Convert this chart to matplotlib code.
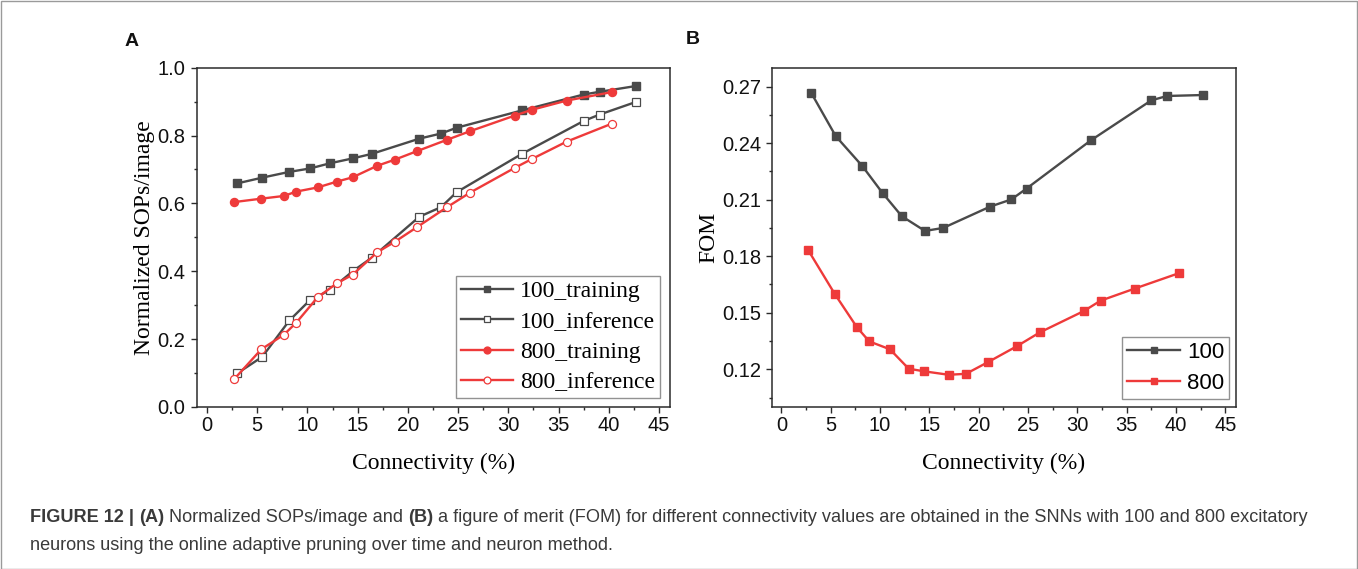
import matplotlib
matplotlib.use("Agg")
import matplotlib.pyplot as plt
from matplotlib.ticker import MultipleLocator, FormatStrFormatter
from matplotlib import font_manager
from matplotlib.patches import Rectangle

# ---- data ----
conn_100 = [3.0, 5.5, 8.2, 10.25, 12.2, 14.55, 16.4, 21.15, 23.3, 24.85, 31.35, 37.5, 39.1, 42.7]
conn_800 = [2.7, 5.4, 7.65, 8.9, 11.0, 12.9, 14.5, 16.95, 18.7, 20.9, 23.85, 26.2, 30.65, 32.35, 35.8, 40.3]

sops_100_training = [0.659, 0.676, 0.693, 0.703, 0.718, 0.733, 0.746, 0.791, 0.806, 0.823, 0.874, 0.921, 0.929, 0.946]
sops_100_inference = [0.099, 0.148, 0.255, 0.315, 0.344, 0.401, 0.440, 0.561, 0.589, 0.633, 0.746, 0.843, 0.862, 0.899]
sops_800_training = [0.604, 0.614, 0.622, 0.635, 0.647, 0.664, 0.677, 0.711, 0.729, 0.754, 0.787, 0.813, 0.859, 0.876, 0.903, 0.928]
sops_800_inference = [0.082, 0.170, 0.213, 0.249, 0.323, 0.364, 0.390, 0.456, 0.487, 0.530, 0.588, 0.632, 0.705, 0.731, 0.782, 0.835]

fom_100 = [0.2668, 0.2437, 0.2278, 0.2135, 0.2012, 0.1934, 0.1950, 0.2063, 0.2101, 0.2159, 0.2414, 0.2627, 0.2650, 0.2655]
fom_800 = [0.1833, 0.1600, 0.1423, 0.1348, 0.1306, 0.1203, 0.1189, 0.1171, 0.1176, 0.1237, 0.1322, 0.1396, 0.1509, 0.1564, 0.1628, 0.1710]

legend_left = ["100_training", "100_inference", "800_training", "800_inference"]
legend_right = ["100", "800"]

# ---- style ----
GRAY = "#4a4a4a"
RED = "#ee3a3a"
SPINE = "#2b2b2b"
SERIF = "Liberation Serif"
SANS = "Liberation Sans"

W, H = 1358, 569
fig = plt.figure(figsize=(W / 100, H / 100), dpi=100)
fig.patch.set_facecolor("white")


def px_axes(l, t, r, b):
    return fig.add_axes([l / W, 1 - b / H, (r - l) / W, (b - t) / H])


def style_axes(ax, ymajor, yminor, yfmt):
    for s in ax.spines.values():
        s.set_color(SPINE)
        s.set_linewidth(1.1)
    ax.xaxis.set_major_locator(MultipleLocator(5))
    ax.xaxis.set_minor_locator(MultipleLocator(2.5))
    ax.yaxis.set_major_locator(MultipleLocator(ymajor))
    ax.yaxis.set_minor_locator(MultipleLocator(yminor))
    ax.yaxis.set_major_formatter(FormatStrFormatter(yfmt))
    ax.tick_params(which="both", direction="out", top=False, right=False,
                   color=SPINE, width=1.0)
    ax.tick_params(which="major", length=4.5, labelsize=14.5)
    ax.tick_params(which="minor", length=2.5)
    ax.tick_params(axis="x", pad=2)
    ax.tick_params(axis="y", pad=3.5)
    for lab in ax.get_xticklabels() + ax.get_yticklabels():
        lab.set_fontfamily(SANS)
        lab.set_color("#111111")


# ---- panel A ----
axA = px_axes(196.7, 67.7, 670, 407)
lw = 1.7
axA.plot(conn_100, sops_100_training, color=GRAY, lw=lw, marker="s", ms=5.2,
         mfc=GRAY, mec=GRAY, label=legend_left[0])
axA.plot(conn_100, sops_100_inference, color=GRAY, lw=lw, marker="s", ms=5.2,
         mfc="white", mec=GRAY, mew=0.9, label=legend_left[1])
axA.plot(conn_800, sops_800_training, color=RED, lw=lw, marker="o", ms=5.8,
         mfc=RED, mec=RED, label=legend_left[2])
axA.plot(conn_800, sops_800_inference, color=RED, lw=lw, marker="o", ms=5.8,
         mfc="white", mec=RED, mew=0.9, label=legend_left[3])
axA.set_xlim(-1.03, 46.1)
axA.set_ylim(0.0, 1.0)
style_axes(axA, 0.2, 0.1, "%.1f")
axA.set_xlabel("Connectivity (%)", family=SERIF, fontsize=17, labelpad=13)
axA.set_ylabel("Normalized SOPs/image", family=SERIF, fontsize=17, labelpad=2)
legA = axA.legend(loc="lower right", bbox_to_anchor=(0.979, 0.0265),
                  borderaxespad=0, prop={"family": SERIF, "size": 17},
                  handlelength=2.2, handletextpad=0.3, labelspacing=0.37,
                  borderpad=0.2, fancybox=False, frameon=True, markerscale=0.85)
legA.get_frame().set_edgecolor("#777777")
legA.get_frame().set_linewidth(1.0)

# ---- panel B ----
axB = px_axes(772, 67.7, 1236, 407)
axB.plot(conn_100, fom_100, color=GRAY, lw=lw, marker="s", ms=5.2,
         mfc=GRAY, mec=GRAY, label=legend_right[0])
axB.plot(conn_800, fom_800, color=RED, lw=lw, marker="s", ms=5.2,
         mfc=RED, mec=RED, label=legend_right[1])
axB.set_xlim(-0.96, 46.08)
axB.set_ylim(0.10, 0.28)
style_axes(axB, 0.03, 0.015, "%.2f")
axB.set_xlabel("Connectivity (%)", family=SERIF, fontsize=17, labelpad=13)
axB.set_ylabel("FOM", family=SERIF, fontsize=17, labelpad=2)
legB = axB.legend(loc="lower right", bbox_to_anchor=(0.985, 0.0236),
                  borderaxespad=0, prop={"family": SANS, "size": 16},
                  handlelength=2.4, handletextpad=0.3, labelspacing=0.45,
                  borderpad=0.22, fancybox=False, frameon=True, markerscale=0.85)
legB.get_frame().set_edgecolor("#777777")
legB.get_frame().set_linewidth(1.0)

# ---- panel letters ----
fig.text(132 / W, 1 - 41 / H, "A", family=SANS, weight="bold", fontsize=14,
         ha="center", va="center", color="#111111")
fig.text(693 / W, 1 - 40 / H, "B", family=SANS, weight="bold", fontsize=14,
         ha="center", va="center", color="#111111")

# ---- caption ----
def pick_caption_font():
    for fam in ["Liberation Sans Narrow", "Liberation Sans"]:
        try:
            font_manager.findfont(font_manager.FontProperties(family=fam),
                                  fallback_to_default=False)
            return fam
        except Exception:
            continue
    return "DejaVu Sans"


CAP_FONT = pick_caption_font()
CAP_COLOR = "#3a3a3a"
line1 = [("FIGURE 12 | ", True), ("(A)", True), (" Normalized SOPs/image and ", False),
         ("(B)", True), (" a figure of merit (FOM) for different connectivity values are "
                         "obtained in the SNNs with 100 and 800 excitatory", False)]
line2 = [("neurons using the online adaptive pruning over time and neuron method.", False)]

renderer = fig.canvas.get_renderer()


def draw_line(segments, x0, yc, size):
    x = x0
    for txt, bold in segments:
        t = fig.text(x / W, 1 - yc / H, txt, family=CAP_FONT, fontsize=size,
                     weight="bold" if bold else "normal", color=CAP_COLOR,
                     ha="left", va="center")
        bb = t.get_window_extent(renderer=renderer)
        x += bb.width
    return x - x0


# fit the first caption line to the text column width
probe = 12.0
tmp = []
xx = 0
for txt, bold in line1:
    t = fig.text(0, 0, txt, family=CAP_FONT, fontsize=probe,
                 weight="bold" if bold else "normal")
    xx += t.get_window_extent(renderer=renderer).width
    tmp.append(t)
for t in tmp:
    t.remove()
cap_size = probe * 1281 / xx
draw_line(line1, 30, 517, cap_size)
draw_line(line2, 30, 545, cap_size)

# outer frame
fig.patches.append(Rectangle((0.5 / W, 0.5 / H), 1 - 1.5 / W, 1 - 1.5 / H,
                             transform=fig.transFigure, fill=False,
                             edgecolor="#9a9a9a", linewidth=1.0))

fig.savefig("out.png", dpi=100, facecolor="white")
